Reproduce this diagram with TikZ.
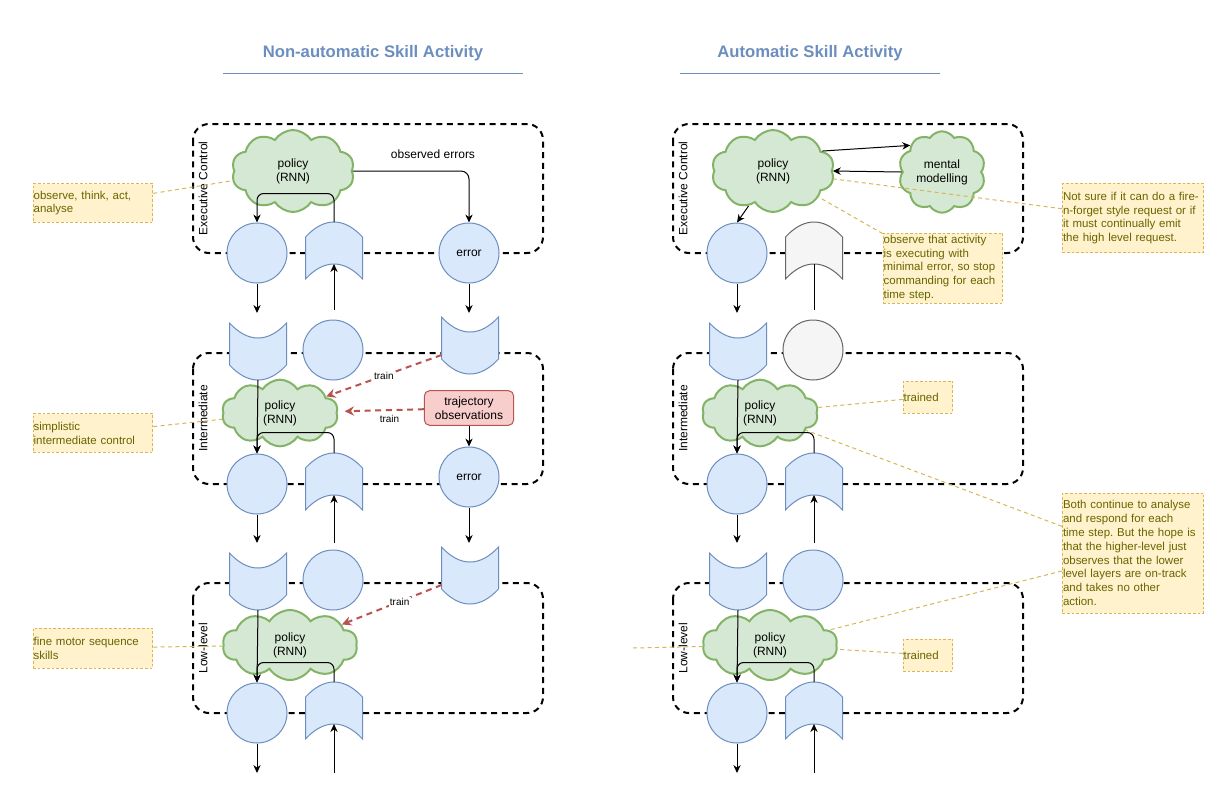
\documentclass[tikz,border=0pt]{standalone}
\usepackage{fontspec}
\setmainfont{Liberation Sans}
\usetikzlibrary{arrows.meta,calc,shapes.symbols}
\frenchspacing

\definecolor{bfill}{HTML}{DAE8FC}
\definecolor{bline}{HTML}{6C8EBF}
\definecolor{gfill}{HTML}{F5F5F5}
\definecolor{gline}{HTML}{666666}
\definecolor{pfill}{HTML}{D5E8D4}
\definecolor{pline}{HTML}{82B366}
\definecolor{rfill}{HTML}{F8CECC}
\definecolor{rline}{HTML}{B85450}
\definecolor{nfill}{HTML}{FFF2CC}
\definecolor{nline}{HTML}{D6B656}
\definecolor{ntext}{HTML}{666600}
\definecolor{ttl}{HTML}{6C8EBF}

\tikzset{
  txt/.style={font=\fontsize{9}{10.4}\selectfont},
  layer/.style={draw=black, line width=1.5pt, dash pattern=on 4.5pt off 3.5pt, rounded corners=12pt},
  lvl/.style={txt, rotate=90, inner sep=0pt},
  policy/.style={cloud, cloud puffs=10, cloud puff arc=115, draw=pline, fill=pfill, line width=1.5pt,
    align=center, inner sep=0pt, txt},
  port/.style={circle, draw=bline, fill=bfill, line width=0.75pt, minimum size=45pt, inner sep=0pt, txt},
  arr/.style={draw=black, line width=0.75pt, -{Stealth[length=6pt,width=5.5pt]}},
  train/.style={draw=rline, line width=1.5pt, dash pattern=on 4.5pt off 3.5pt, -{Stealth[length=7pt,width=7pt]}},
  trainlbl/.style={font=\fontsize{7.5}{9}\selectfont, fill=white, inner sep=1pt},
  note/.style={draw=nline, fill=nfill, dash pattern=on 2pt off 1.5pt, line width=0.6pt, text=ntext,
    font=\fontsize{8.6}{10.4}\selectfont, align=left, inner xsep=0.4pt, inner ysep=0pt},
  noteline/.style={draw=nline, line width=0.75pt, dash pattern=on 3pt off 2.5pt},
  obs/.style={rectangle, rounded corners=4pt, draw=rline, fill=rfill, line width=0.75pt, align=center, txt,
    minimum width=67pt, minimum height=26pt},
  title/.style={font=\fontsize{12.5}{14}\selectfont\bfseries, text=ttl, minimum height=30pt},
  ttlline/.style={draw=ttl, line width=0.75pt},
  tapeup/.pic={
    \path[pic actions, line width=0.75pt] (-28.5,-16) .. controls (-10,-36) and (10,-36) .. (28.5,-16)
      -- (28.5,26) .. controls (10,6) and (-10,6) .. (-28.5,26) -- cycle;
    \coordinate (-top) at (0,-31);
    \coordinate (-bot) at (0,11);
  },
  tapedown/.pic={
    \path[pic actions, line width=0.75pt] (-28.5,-28) .. controls (-10,-8) and (10,-8) .. (28.5,-28)
      -- (28.5,14) .. controls (10,34) and (-10,34) .. (-28.5,14) -- cycle;
    \coordinate (-top) at (0,-14);
    \coordinate (-bot) at (0,29);
    \coordinate (-west) at (-28.5,10);
  }
}

\begin{document}
\begin{tikzpicture}[x=0.75pt,y=-0.75pt]
\useasboundingbox (0,0) rectangle (1211,790);

\node[title, minimum width=225pt] (t1) at (373,53) {Non-automatic Skill Activity};
\draw[ttlline] (t1.south west) -- (t1.south east);
\node[title, minimum width=195pt] (t2) at (810,53) {Automatic Skill Activity};
\draw[ttlline] (t2.south west) -- (t2.south east);

% both panels share the three layers
\foreach \s/\dx/\gf/\gd in {L/0/bfill/bline, R/480/gfill/gline}{
\begin{scope}[shift={(\dx,0)}]
  \draw[layer] (193,124) rectangle (543,253);
  \draw[layer] (193,353) rectangle (543,484);
  \draw[layer] (193,583) rectangle (543,713);
  \node[lvl] (\s lv1) at (203,188.5) {Executive Control};
  \node[lvl] (\s lv2) at (203,418.5) {Intermediate};
  \node[lvl] (\s lv3) at (203,648) {Low-level};

  \node[policy, minimum width=92pt, minimum height=61.5pt] (\s pol1) at (293,171) {policy\\(RNN)};
  \node[policy, minimum width=87pt, minimum height=50pt] (\s pol2) at (280,413) {policy\\(RNN)};
  \node[policy, minimum width=101pt, minimum height=52.5pt] (\s pol3) at (290,645) {policy\\(RNN)};

  \node[port] (\s a1) at (257,253) {};
  \pic[fill=\gf, draw=\gd] (\s b1) at (334,253) {tapeup};
  \pic[fill=bfill, draw=bline] (\s a2) at (258,351) {tapedown};
  \node[port, fill=\gf, draw=\gd] (\s b2) at (333,350) {};
  \node[port] (\s a3) at (257,484) {};
  \pic[fill=bfill, draw=bline] (\s b3) at (334,484) {tapeup};
  \pic[fill=bfill, draw=bline] (\s a4) at (258,581) {tapedown};
  \node[port] (\s b4) at (333,580) {};
  \node[port] (\s a5) at (257,713) {};
  \pic[fill=bfill, draw=bline] (\s b5) at (334,713) {tapeup};

  \coordinate (\s d1) at (257,313);
  \coordinate (\s d3) at (257,543);
  \coordinate (\s d5) at (257,773);
  \coordinate (\s u3) at (334,543);
  \coordinate (\s u5) at (334,773);
  \draw[arr] (\s a1) -- (\s d1);
  \draw[arr] (\s a3) -- (\s d3);
  \draw[arr] (\s a5) -- (\s d5);
  \draw[arr] (\s u3) -- (\s b3-bot);
  \draw[arr] (\s u5) -- (\s b5-bot);
  \draw[arr] (\s a2-bot) -- (\s a3.north);
  \draw[arr, rounded corners=5pt] (\s b3-top) |- ($(\s a3.north)+(0,-21)$) -- (\s a3.north);
  \draw[arr] (\s a4-bot) -- (\s a5.north);
  \draw[arr, rounded corners=5pt] (\s b5-top) |- ($(\s a5.north)+(0,-20)$) -- (\s a5.north);
\end{scope}
}

% non-automatic panel
\node[port] (Lerr1) at (469,253) {error};
\node[port] (Lerr2) at (469,477) {error};
\pic[fill=bfill, draw=bline] (Ltd2) at (470,345) {tapedown};
\pic[fill=bfill, draw=bline] (Ltd4) at (470,575) {tapedown};
\node[obs] (Ltraj) at (469,408) {trajectory\\observations};
\node[txt] (Lobs) at (433,154) {observed errors};
\coordinate (Lu1) at (334,310);
\coordinate (Le1) at (469,313);
\coordinate (Le2) at (469,543);
\draw[arr, rounded corners=5pt] (Lb1-top) |- ($(La1.north)+(0,-29)$) -- (La1.north);
\draw[arr] (Lu1) -- (Lb1-bot);
\draw[arr, rounded corners=6pt] (Lpol1.east) -| (Lerr1.north);
\draw[arr] (Lerr1) -- (Le1);
\draw[arr] (Lerr2) -- (Le2);
\draw[arr] (Ltraj) -- (Lerr2);
\draw[train] (Ltd2-west) -- (Lpol2) node[trainlbl, pos=0.5] (Ltr1) {train};
\draw[train, shorten >=5pt] (Ltraj) -- (Lpol2) node[trainlbl, pos=0.4, below=2pt] (Ltr2) {train};
\draw[train] (Ltd4-west) -- (Lpol3) node[trainlbl, pos=0.42] (Ltr3) {train};

% automatic panel
\node[policy, minimum width=65pt, minimum height=52.5pt] (Rmm) at (942,172) {mental\\modelling};
\coordinate (Ru1) at (814,310);
\draw (Ru1) -- (Rb1-bot);
\draw[arr] (Rpol1.235) -- (Ra1.north);
\draw[arr] (Rpol1.22) -- (Rmm.140);
\draw[arr] (Rmm.west) -- (Rpol1.east);

% notes
\node[note, text width=89pt, minimum height=29pt] (n1) at (93,203) {observe, think, act,\\analyse};
\node[note, text width=89pt, minimum height=29pt] (n2) at (93,433) {simplistic\\intermediate control};
\node[note, text width=89pt, minimum height=30pt] (n3) at (93,648) {fine motor sequence\\skills};
\node[note, text width=89pt, minimum height=52.5pt] (n4) at (943,268) {observe that activity\\is executing with\\minimal error, so stop\\commanding for each\\time step.};
\node[note, text width=105pt, minimum height=52pt] (n5) at (1133,218) {Not sure if it can do a fire-\\n-forget style request or if\\it must continually emit\\the high level request.};
\node[note, text width=36.5pt, minimum height=24pt] (n6) at (928,397) {trained};
\node[note, text width=36.5pt, minimum height=24pt] (n7) at (928,655) {trained};
\node[note, text width=105pt, minimum height=90pt] (n8) at (1133,553) {Both continue to analyse\\and respond for each\\time step. But the hope is\\that the higher-level just\\observes that the lower\\level layers are on-track\\and takes no other\\action.};
\coordinate (n9) at (633,648);
\draw[noteline] (n1) -- (Lpol1);
\draw[noteline] (n2) -- (Lpol2);
\draw[noteline] (n3) -- (Lpol3);
\draw[noteline] (n4) -- (Rpol1);
\draw[noteline] (n5) -- (Rpol1);
\draw[noteline] (n6) -- (Rpol2);
\draw[noteline] (n7) -- (Rpol3);
\draw[noteline] (n8) -- (Rpol2);
\draw[noteline] (n8) -- (Rpol3);
\draw[noteline] (n9) -- (Rpol3);

\end{tikzpicture}
\end{document}
